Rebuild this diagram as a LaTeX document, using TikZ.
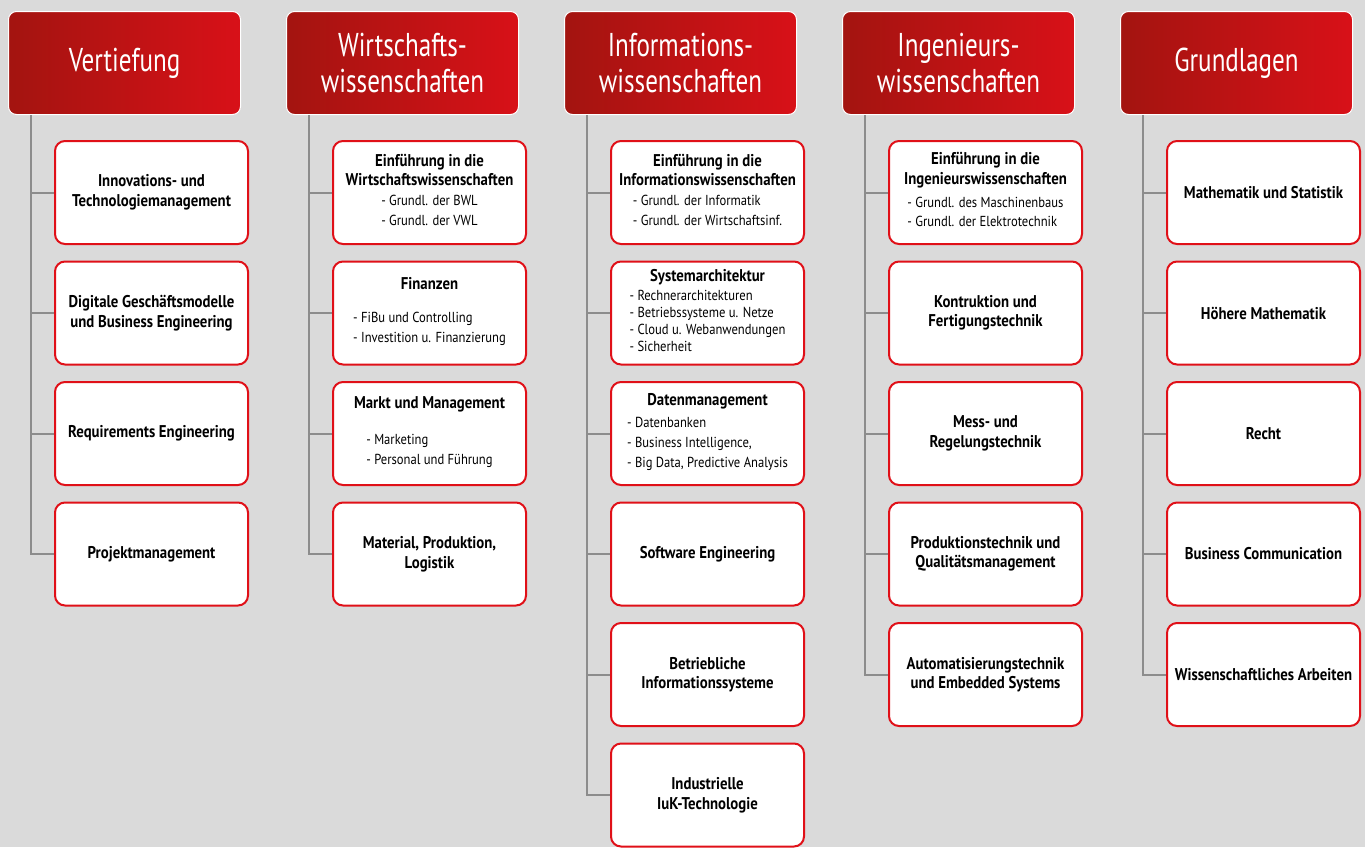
\documentclass[tikz,border=0pt]{standalone}
\usepackage{fontspec}
\setmainfont{PT Sans}[FakeStretch=0.87]
\newfontfamily\headfont{PT Sans}[FakeStretch=0.76]
\usepackage{tikz}

\definecolor{bggrey}{RGB}{218,218,218}
\definecolor{hdark}{RGB}{163,20,16}
\definecolor{hlight}{RGB}{216,17,24}
\definecolor{modred}{RGB}{224,16,24}
\definecolor{linegrey}{RGB}{140,140,140}

\newcommand{\subitems}[2][19.5]{{\mdseries\fontsize{14.5}{#1}\selectfont\begin{tabular}{@{}l@{}}#2\end{tabular}}}

\tikzset{
	header/.style={draw=white, line width=1pt, rounded corners=8pt, left color=hdark, right color=hlight,
		minimum width=232pt, minimum height=103pt, inner sep=0pt, text=white, align=center,
		font=\headfont\fontsize{33}{36}\selectfont},
	modbox/.style={draw=modred, line width=2pt, fill=white, rounded corners=10pt,
		minimum width=193pt, minimum height=103pt, inner sep=0pt, align=center,
		font=\bfseries\fontsize{17}{19.5}\selectfont},
	branch/.style={draw=linegrey, line width=2pt}
}

\begin{document}
\begin{tikzpicture}[x=1pt,y=-1pt]
	
	% Background
	\fill[bggrey] (0,0) rectangle (1365,847);
	\useasboundingbox (0,0) rectangle (1365,847);
	
	% Vertiefung
	% Draw header and boxes
	\node[header] (v) at (124.5,63) {Vertiefung};
	\node[modbox] (v1) at (151.5,192.5) {Innovations- und\\Technologiemanagement};
	\node[modbox] (v2) at (151.5,313) {Digitale Geschäftsmodelle\\und Business Engineering};
	\node[modbox] (v3) at (151.5,433.5) {Requirements Engineering};
	\node[modbox] (v4) at (151.5,554) {Projektmanagement};
	
	% Draw branch lines
	\coordinate (vs) at ([xshift=23pt]v.south west);
	\draw[branch] (vs) |- (v4.west);
	\draw[branch] (v1.west) -- (v1.west -| vs);
	\draw[branch] (v2.west) -- (v2.west -| vs);
	\draw[branch] (v3.west) -- (v3.west -| vs);
	
	
	% Wirtschaftswissenschaften
	% Draw header and boxes
	\node[header] (w) at (402.5,63) {Wirtschafts-\\wissenschaften};
	\node[modbox] (w1) at (429.5,192.5) {Einführung in die\\Wirtschaftswissenschaften\\[5pt]
		\subitems{- Grundl. der BWL\\- Grundl. der VWL}};
	\node[modbox] (w2) at (429.5,313) {Finanzen\\[18pt]
		\subitems[20]{- FiBu und Controlling\\- Investition u. Finanzierung}};
	\node[modbox] (w3) at (429.5,433.5) {Markt und Management\\[18pt]
		\subitems[20]{- Marketing\\- Personal und Führung}};
	\node[modbox] (w4) at (429.5,554) {Material, Produktion,\\Logistik};
	
	% Draw branch lines
	\coordinate (ws) at ([xshift=23pt]w.south west);
	\draw[branch] (ws) |- (w4.west);
	\draw[branch] (w1.west) -- (w1.west -| ws);
	\draw[branch] (w2.west) -- (w2.west -| ws);
	\draw[branch] (w3.west) -- (w3.west -| ws);
	
	
	% Informationswissenschaften
	% Draw header and boxes
	\node[header] (i) at (680.5,63) {Informations-\\wissenschaften};
	\node[modbox] (i1) at (707.5,192.5) {Einführung in die\\Informationswissenschaften\\[5pt]
		\subitems{- Grundl. der Informatik\\- Grundl. der Wirtschaftsinf.}};
	\node[modbox] (i2) at (707.5,313) {Systemarchitektur\\[3pt]
		\subitems[17]{- Rechnerarchitekturen\\- Betriebssysteme u. Netze\\- Cloud u. Webanwendungen\\- Sicherheit}};
	\node[modbox] (i3) at (707.5,433.5) {Datenmanagement\\[3pt]
		\subitems[20]{- Datenbanken\\- Business Intelligence,\\- Big Data, Predictive Analysis}};
	\node[modbox] (i4) at (707.5,554) {Software Engineering};
	\node[modbox] (i5) at (707.5,674.5) {Betriebliche\\Informationssysteme};
	\node[modbox] (i6) at (707.5,795) {Industrielle\\IuK-Technologie};
	
	% Draw branch lines
	\coordinate (is) at ([xshift=23pt]i.south west);
	\draw[branch] (is) |- (i6.west);
	\draw[branch] (i1.west) -- (i1.west -| is);
	\draw[branch] (i2.west) -- (i2.west -| is);
	\draw[branch] (i3.west) -- (i3.west -| is);
	\draw[branch] (i4.west) -- (i4.west -| is);
	\draw[branch] (i5.west) -- (i5.west -| is);
	
	
	% Ingenieurswissenschaften
	% Draw header and boxes
	\node[header] (e) at (958.5,63) {Ingenieurs-\\wissenschaften};
	\node[modbox] (e1) at (985.5,192.5) {Einführung in die\\Ingenieurswissenschaften\\[5pt]
		\subitems{- Grundl. des Maschinenbaus\\- Grundl. der Elektrotechnik}};
	\node[modbox] (e2) at (985.5,313) {Kontruktion und\\Fertigungstechnik};
	\node[modbox] (e3) at (985.5,433.5) {Mess- und\\Regelungstechnik};
	\node[modbox] (e4) at (985.5,554) {Produktionstechnik und\\Qualitätsmanagement};
	\node[modbox] (e5) at (985.5,674.5) {Automatisierungstechnik\\und Embedded Systems};
	
	% Draw branch lines
	\coordinate (es) at ([xshift=23pt]e.south west);
	\draw[branch] (es) |- (e5.west);
	\draw[branch] (e1.west) -- (e1.west -| es);
	\draw[branch] (e2.west) -- (e2.west -| es);
	\draw[branch] (e3.west) -- (e3.west -| es);
	\draw[branch] (e4.west) -- (e4.west -| es);
	
	
	% Grundlagen
	% Draw header and boxes
	\node[header] (g) at (1236.5,63) {Grundlagen};
	\node[modbox] (g1) at (1263.5,192.5) {Mathematik und Statistik};
	\node[modbox] (g2) at (1263.5,313) {Höhere Mathematik};
	\node[modbox] (g3) at (1263.5,433.5) {Recht};
	\node[modbox] (g4) at (1263.5,554) {Business Communication};
	\node[modbox] (g5) at (1263.5,674.5) {Wissenschaftliches Arbeiten};
	
	% Draw branch lines
	\coordinate (gs) at ([xshift=23pt]g.south west);
	\draw[branch] (gs) |- (g5.west);
	\draw[branch] (g1.west) -- (g1.west -| gs);
	\draw[branch] (g2.west) -- (g2.west -| gs);
	\draw[branch] (g3.west) -- (g3.west -| gs);
	\draw[branch] (g4.west) -- (g4.west -| gs);
	
\end{tikzpicture}
\end{document}
